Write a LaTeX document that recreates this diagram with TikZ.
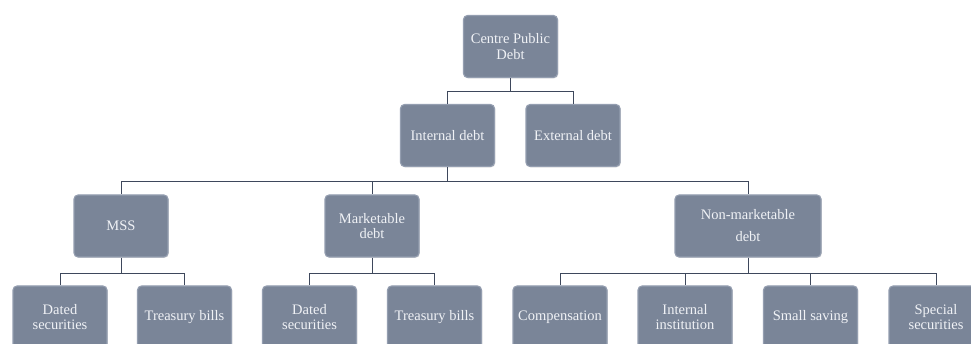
\documentclass[tikz,border=0pt]{standalone}
\usepackage{fontspec}
\setmainfont{Liberation Serif}
\usetikzlibrary{shadows}
\definecolor{boxfill}{RGB}{122,133,152}
\definecolor{boxedge}{RGB}{148,158,176}
\definecolor{linec}{RGB}{62,72,92}
\definecolor{txtc}{RGB}{240,242,246}
\tikzset{
  box/.style={rounded corners=4pt, fill=boxfill, draw=boxedge, line width=1.1pt,
    minimum width=94pt, minimum height=62pt, align=center, text=txtc,
    font=\fontsize{14.5}{15.5}\selectfont, inner sep=2pt,
    drop shadow={opacity=0.25, shadow xshift=0.8pt, shadow yshift=-0.8pt}},
  conn/.style={draw=linec, line width=0.9pt}
}
\begin{document}
\begin{tikzpicture}[x=1pt, y=-1pt]
\useasboundingbox (0,0) rectangle (971,344);
\clip (0,0) rectangle (971,344);
\fill[white] (0,0) rectangle (971,344);
% nodes
\node[box] (ctr) at (510.5,46.5) {Centre Public\\Debt};
\node[box] (intd) at (447.5,135.5) {Internal debt};
\node[box] (extd) at (573,135.5) {External debt};
\node[box] (mss) at (121,226) {MSS};
\node[box] (mkt) at (372,226) {Marketable\\debt};
\node[box, minimum width=146pt, font=\fontsize{14.5}{22}\selectfont] (nmkt) at (748,226) {Non-marketable\\debt};
\node[box] (d1) at (60,317) {Dated\\securities};
\node[box] (t1) at (184.5,317) {Treasury bills};
\node[box] (d2) at (309.5,317) {Dated\\securities};
\node[box] (t2) at (434.5,317) {Treasury bills};
\node[box] (comp) at (560,317) {Compensation};
\node[box] (inst) at (685,317) {Internal\\institution};
\node[box] (small) at (810.5,317) {Small saving};
\node[box] (spec) at (936,317) {Special\\securities};
% connectors
\coordinate (b1) at (510.5,91);
\coordinate (b2) at (447.5,181);
\coordinate (b3a) at (121,273);
\coordinate (b3b) at (372,273);
\coordinate (b3c) at (748,273);
\draw[conn] (ctr.south) -- (b1);
\draw[conn] (b1) -| (intd.north);
\draw[conn] (b1) -| (extd.north);
\draw[conn] (intd.south) -- (b2);
\draw[conn] (b2) -| (mss.north);
\draw[conn] (b2) -| (mkt.north);
\draw[conn] (b2) -| (nmkt.north);
\draw[conn] (mss.south) -- (b3a);
\draw[conn] (b3a) -| (d1.north);
\draw[conn] (b3a) -| (t1.north);
\draw[conn] (mkt.south) -- (b3b);
\draw[conn] (b3b) -| (d2.north);
\draw[conn] (b3b) -| (t2.north);
\draw[conn] (nmkt.south) -- (b3c);
\draw[conn] (b3c) -| (comp.north);
\draw[conn] (b3c) -| (inst.north);
\draw[conn] (b3c) -| (small.north);
\draw[conn] (b3c) -| (spec.north);
\end{tikzpicture}
\end{document}
